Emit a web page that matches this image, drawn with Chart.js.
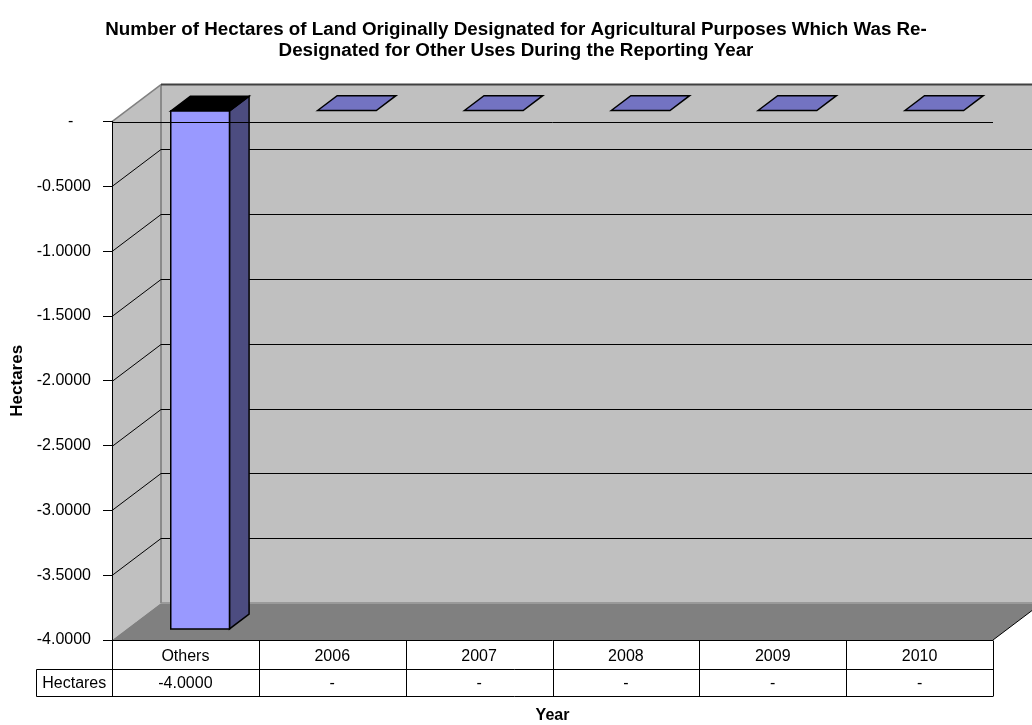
<!DOCTYPE html>
<html>
<head>
<meta charset="utf-8">
<title>Hectares re-designated</title>
<script src="https://cdn.jsdelivr.net/npm/chart.js@4.4.1/dist/chart.umd.min.js"></script>
<style>
  html, body { margin: 0; padding: 0; background: #fff; }
  canvas { display: block; }
</style>
</head>
<body>
<canvas id="myChart" width="1032" height="725"></canvas>
<script>
// categories and values shown in the chart / data table
const categories = ['Others', '2006', '2007', '2008', '2009', '2010'];
const hectares = [-4, 0, 0, 0, 0, 0];
const tableRowLabel = 'Hectares';
const yMin = -4;
const yMax = 0;
const yStep = 0.5;

const titleLines = [
  'Number of Hectares of Land Originally Designated for Agricultural Purposes Which Was Re-',
  'Designated for Other Uses During the Reporting Year'
];

// depth of the 3d box (x, y) and where the bars sit inside it
const DEPTH_X = 49, DEPTH_Y = -37;
const BAR_FRONT = 0.3, BAR_BACK = 0.7;

const fmt = v => v === 0 ? '-' : v.toFixed(4);

Chart.defaults.font.family = '"Liberation Sans", Arial, sans-serif';
Chart.defaults.color = '#000';

function poly(ctx, pts, fill, stroke, lw) {
  ctx.beginPath();
  ctx.moveTo(pts[0][0], pts[0][1]);
  for (let i = 1; i < pts.length; i++) ctx.lineTo(pts[i][0], pts[i][1]);
  ctx.closePath();
  if (fill) { ctx.fillStyle = fill; ctx.fill(); }
  if (stroke) { ctx.strokeStyle = stroke; ctx.lineWidth = lw || 1; ctx.stroke(); }
}

function line(ctx, x1, y1, x2, y2, color, lw) {
  ctx.beginPath();
  ctx.moveTo(x1, y1);
  ctx.lineTo(x2, y2);
  ctx.strokeStyle = color;
  ctx.lineWidth = lw || 1;
  ctx.stroke();
}

// walls, floor and gridlines, drawn before the axes
const walls = {
  id: 'walls',
  beforeDraw(chart) {
    const {ctx, chartArea: a, scales: {y}} = chart;
    const L = a.left, R = a.right, T = y.getPixelForValue(yMax), B = y.getPixelForValue(yMin);
    const dx = DEPTH_X, dy = DEPTH_Y;
    ctx.save();
    // back wall
    poly(ctx, [[L + dx, T + dy], [R + dx, T + dy], [R + dx, B + dy], [L + dx, B + dy]], '#c0c0c0');
    // side wall
    poly(ctx, [[L, T], [L + dx, T + dy], [L + dx, B + dy], [L, B]], '#c0c0c0');
    // floor
    poly(ctx, [[L, B], [L + dx, B + dy], [R + dx, B + dy], [R, B]], '#808080');
    line(ctx, L + dx, B + dy, R + dx, B + dy, '#9a9a9a', 2);
    line(ctx, R, B, R + dx, B + dy, '#000', 1);
    // wall edges
    line(ctx, L + dx, T + dy, L + dx, B + dy, '#8a8a8a', 2);
    line(ctx, L, T, L + dx, T + dy, '#808080', 1.5);
    line(ctx, L + dx, T + dy, R + dx, T + dy, '#404040', 2);
    // gridlines on back wall + diagonals across the side wall
    y.ticks.forEach(t => {
      if (t.value === yMax || t.value === yMin) return;
      const py = Math.round(y.getPixelForValue(t.value)) + 0.5;
      line(ctx, L + dx, py + dy, R + dx, py + dy, '#000', 1);
      line(ctx, L, py, L + dx, py + dy, '#000', 1);
    });
    ctx.restore();
  }
};

// 3d bars built from the bar elements, then the front axis line and data table
const bars3d = {
  id: 'bars3d',
  afterDatasetsDraw(chart) {
    const {ctx, chartArea: a, scales: {x, y}} = chart;
    const meta = chart.getDatasetMeta(0);
    const ox0 = DEPTH_X * BAR_FRONT, oy0 = DEPTH_Y * BAR_FRONT;
    const ox1 = DEPTH_X * BAR_BACK, oy1 = DEPTH_Y * BAR_BACK;
    ctx.save();
    ctx.lineJoin = 'miter';
    meta.data.forEach((bar, i) => {
      const p = bar.getProps(['x', 'y', 'base', 'width'], true);
      const l = p.x - p.width / 2, r = p.x + p.width / 2;
      const top = Math.min(p.y, p.base), bot = Math.max(p.y, p.base);
      if (hectares[i] === 0) {
        poly(ctx, [[l + ox0, top + oy0], [l + ox1, top + oy1], [r + ox1, top + oy1], [r + ox0, top + oy0]], '#7373c2', '#000', 1.5);
        return;
      }
      // side
      poly(ctx, [[r + ox0, top + oy0], [r + ox1, top + oy1], [r + ox1, bot + oy1], [r + ox0, bot + oy0]], '#4c4c80', '#000', 1.5);
      // top
      poly(ctx, [[l + ox0, top + oy0], [l + ox1, top + oy1], [r + ox1, top + oy1], [r + ox0, top + oy0]], '#000', '#000', 1.5);
      // front
      poly(ctx, [[l + ox0, top + oy0], [r + ox0, top + oy0], [r + ox0, bot + oy0], [l + ox0, bot + oy0]], '#9999ff', '#000', 1.5);
    });

    const T = Math.round(y.getPixelForValue(yMax)) + 0.5;
    const B = Math.round(y.getPixelForValue(yMin)) + 0.5;
    line(ctx, a.left, T, a.right, T, '#000', 1);

    // data table
    const half = (x.getPixelForValue(1) - x.getPixelForValue(0)) / 2;
    const row1 = B + 29, row2 = B + 56;
    const labelLeft = 36.5;
    line(ctx, a.left, B, a.right, B, '#000', 1);
    line(ctx, labelLeft, row1, a.right, row1, '#000', 1);
    line(ctx, labelLeft, row2, a.right, row2, '#000', 1);
    line(ctx, labelLeft, row1, labelLeft, row2, '#000', 1);
    line(ctx, Math.round(a.left) + 0.5, B, Math.round(a.left) + 0.5, row2, '#000', 1);
    categories.forEach((c, i) => {
      const cx = Math.round(x.getPixelForValue(i) + half) + 0.5;
      line(ctx, cx, B, cx, row2, '#000', 1);
    });
    ctx.font = '16px "Liberation Sans", Arial, sans-serif';
    ctx.fillStyle = '#000';
    ctx.textAlign = 'center';
    ctx.textBaseline = 'middle';
    ctx.fillText(tableRowLabel, (labelLeft + a.left) / 2, (row1 + row2) / 2 + 1);
    hectares.forEach((v, i) => {
      ctx.fillText(fmt(v), x.getPixelForValue(i), (row1 + row2) / 2 + 1);
    });
    ctx.restore();
  }
};

new Chart(document.getElementById('myChart'), {
  type: 'bar',
  data: {
    labels: categories,
    datasets: [{
      label: 'Hectares',
      data: hectares,
      backgroundColor: 'rgba(0,0,0,0)',
      borderWidth: 0,
      categoryPercentage: 1,
      barPercentage: 0.4
    }]
  },
  options: {
    responsive: false,
    animation: false,
    devicePixelRatio: 1,
    layout: { padding: 0 },
    plugins: {
      legend: { display: false },
      tooltip: { enabled: false },
      title: {
        display: true,
        text: titleLines,
        color: '#000',
        font: { size: 18.8, weight: 'bold', lineHeight: 1.08 },
        padding: { top: 20, bottom: 61 }
      }
    },
    scales: {
      x: {
        grid: { display: false, drawTicks: false },
        border: { display: false },
        ticks: { font: { size: 16 }, padding: 7, autoSkip: false, maxRotation: 0 },
        title: { display: true, text: 'Year', font: { size: 16, weight: 'bold' }, padding: { top: 0, bottom: 0 } },
        afterFit: s => { s.height = 85; }
      },
      y: {
        min: yMin,
        max: yMax,
        ticks: {
          stepSize: yStep,
          font: { size: 16 },
          padding: 12,
          callback: v => v === 0 ? '-    ' : fmt(v)
        },
        grid: { drawOnChartArea: false, drawTicks: true, tickLength: 9, color: '#000' },
        border: { display: true, color: '#000', width: 1 },
        title: { display: true, text: 'Hectares', font: { size: 17, weight: 'bold' }, padding: { top: 7 } },
        afterFit: s => { s.width = 112; }
      },
      // empty strip on the right where the box's depth runs out of the frame
      edge: {
        position: 'right',
        display: true,
        grid: { display: false, drawTicks: false },
        border: { display: false },
        ticks: { display: false },
        afterFit: s => { s.width = 39; }
      }
    }
  },
  plugins: [walls, bars3d]
});
</script>
</body>
</html>
